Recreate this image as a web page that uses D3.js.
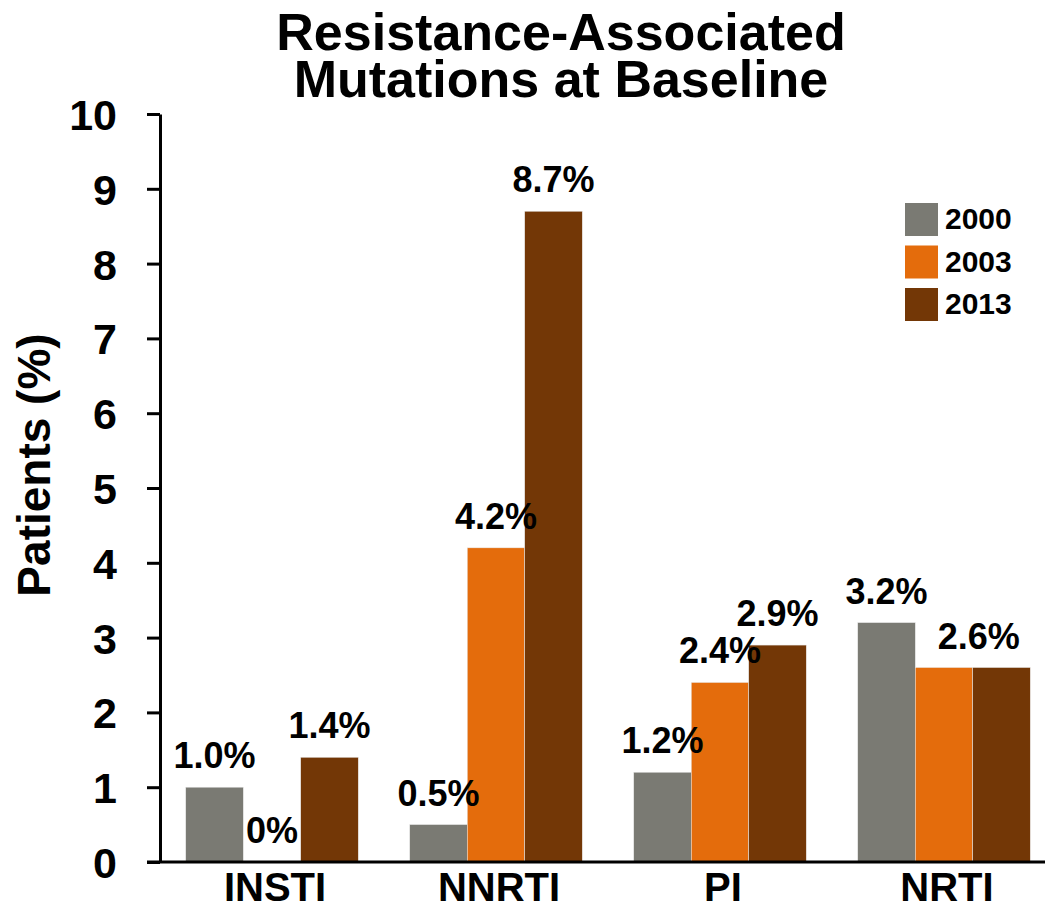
<!DOCTYPE html>
<html>
<head>
<meta charset="utf-8">
<script src="https://cdn.jsdelivr.net/npm/d3@7"></script>
<style>
  body { margin: 0; background: #fff; }
  svg { display: block; font-family: "Liberation Sans", Arial, sans-serif; font-weight: bold; }
</style>
</head>
<body>
<div id="chart"></div>
<script>
const categories = ["INSTI", "NNRTI", "PI", "NRTI"];
const years = ["2000", "2003", "2013"];
const values2000 = [1.0, 0.5, 1.2, 3.2];
const values2003 = [0, 4.2, 2.4, 2.6];
const values2013 = [1.4, 8.7, 2.9, 2.6];
const labels2000 = ["1.0%", "0.5%", "1.2%", "3.2%"];
const labels2003 = ["0%", "4.2%", "2.4%", "2.6%"];
const labels2013 = ["1.4%", "8.7%", "2.9%", ""];
const yTicks = [0, 1, 2, 3, 4, 5, 6, 7, 8, 9, 10];
const titleLines = ["Resistance-Associated", "Mutations at Baseline"];

const colors = ["#7a7a73", "#e46c0c", "#733706"];
const width = 1045, height = 904;

const series = [values2000, values2003, values2013];
const seriesLabels = [labels2000, labels2003, labels2013];

const rows = categories.map((c, i) => ({
  cat: c,
  bars: years.map((yr, j) => ({
    year: yr, j: j, value: series[j][i], label: seriesLabels[j][i],
    // label shared with the next bar when that one has none
    shared: j < years.length - 1 && seriesLabels[j + 1][i] === ""
  }))
}));

const svg = d3.select("#chart").append("svg")
  .attr("width", width)
  .attr("height", height);

const x0 = d3.scaleBand()
  .domain(categories)
  .range([160, 1056])
  .paddingInner(0.23)
  .paddingOuter(0.115);

const x1 = d3.scaleBand()
  .domain(years)
  .range([0, x0.bandwidth()]);

const y = d3.scaleLinear()
  .domain([0, 10])
  .range([862, 114]);

const color = d3.scaleOrdinal().domain(years).range(colors);

// title
svg.append("text")
  .attr("text-anchor", "middle")
  .attr("font-size", 52)
  .selectAll("tspan")
  .data(titleLines)
  .enter().append("tspan")
  .attr("x", 561)
  .attr("y", (d, i) => 50 + i * 47)
  .text(d => d);

// bars
const group = svg.selectAll("g.group")
  .data(rows)
  .enter().append("g")
  .attr("class", "group")
  .attr("transform", d => `translate(${x0(d.cat)},0)`);

group.selectAll("rect")
  .data(d => d.bars)
  .enter().append("rect")
  .attr("x", d => x1(d.year))
  .attr("y", d => y(d.value))
  .attr("width", x1.bandwidth())
  .attr("height", d => y(0) - y(d.value))
  .attr("fill", d => color(d.year))
  .attr("stroke", "#e8e8e8")
  .attr("stroke-width", 0.5);

group.selectAll("text.val")
  .data(d => d.bars.filter(b => b.label !== ""))
  .enter().append("text")
  .attr("class", "val")
  .attr("text-anchor", "middle")
  .attr("font-size", 36)
  .attr("x", d => x1(d.year) + x1.bandwidth() / 2 + (d.shared ? x1.bandwidth() / 2 + 6 : 0))
  .attr("y", d => y(d.value) - 19)
  .text(d => d.label);

// y axis
const yAxis = svg.append("g")
  .attr("transform", "translate(160,0)")
  .call(d3.axisLeft(y).tickValues(yTicks).tickSize(13).tickPadding(30).tickSizeOuter(0));
yAxis.select(".domain").attr("stroke", "#000").attr("stroke-width", 3);
yAxis.selectAll(".tick line").attr("stroke", "#000").attr("stroke-width", 3);
yAxis.selectAll(".tick text")
  .attr("fill", "#000")
  .attr("font-size", 43)
  .attr("font-family", "\"Liberation Sans\", Arial, sans-serif")
  .attr("font-weight", "bold")
  .attr("dy", "0.36em");

// x axis
const xAxis = svg.append("g")
  .attr("transform", `translate(0,${y(0)})`)
  .call(d3.axisBottom(x0).tickSize(0).tickPadding(11).tickSizeOuter(0));
xAxis.select(".domain")
  .attr("d", `M147,0H${width}`)
  .attr("stroke", "#000")
  .attr("stroke-width", 3);
xAxis.selectAll(".tick text")
  .attr("fill", "#000")
  .attr("font-size", 40)
  .attr("font-family", "\"Liberation Sans\", Arial, sans-serif")
  .attr("font-weight", "bold")
  .attr("x", 3)
  .attr("dy", "0.71em");

// y axis title
svg.append("text")
  .attr("transform", "translate(50,465) rotate(-90)")
  .attr("text-anchor", "middle")
  .attr("font-size", 46)
  .text("Patients (%)");

// legend
const legend = svg.append("g")
  .selectAll("g")
  .data(years)
  .enter().append("g")
  .attr("transform", (d, i) => `translate(905,${203 + i * 42.5})`);

legend.append("rect")
  .attr("width", 33)
  .attr("height", 33)
  .attr("fill", d => color(d));

legend.append("text")
  .attr("x", 40)
  .attr("y", 26)
  .attr("font-size", 30)
  .text(d => d);
</script>
</body>
</html>
